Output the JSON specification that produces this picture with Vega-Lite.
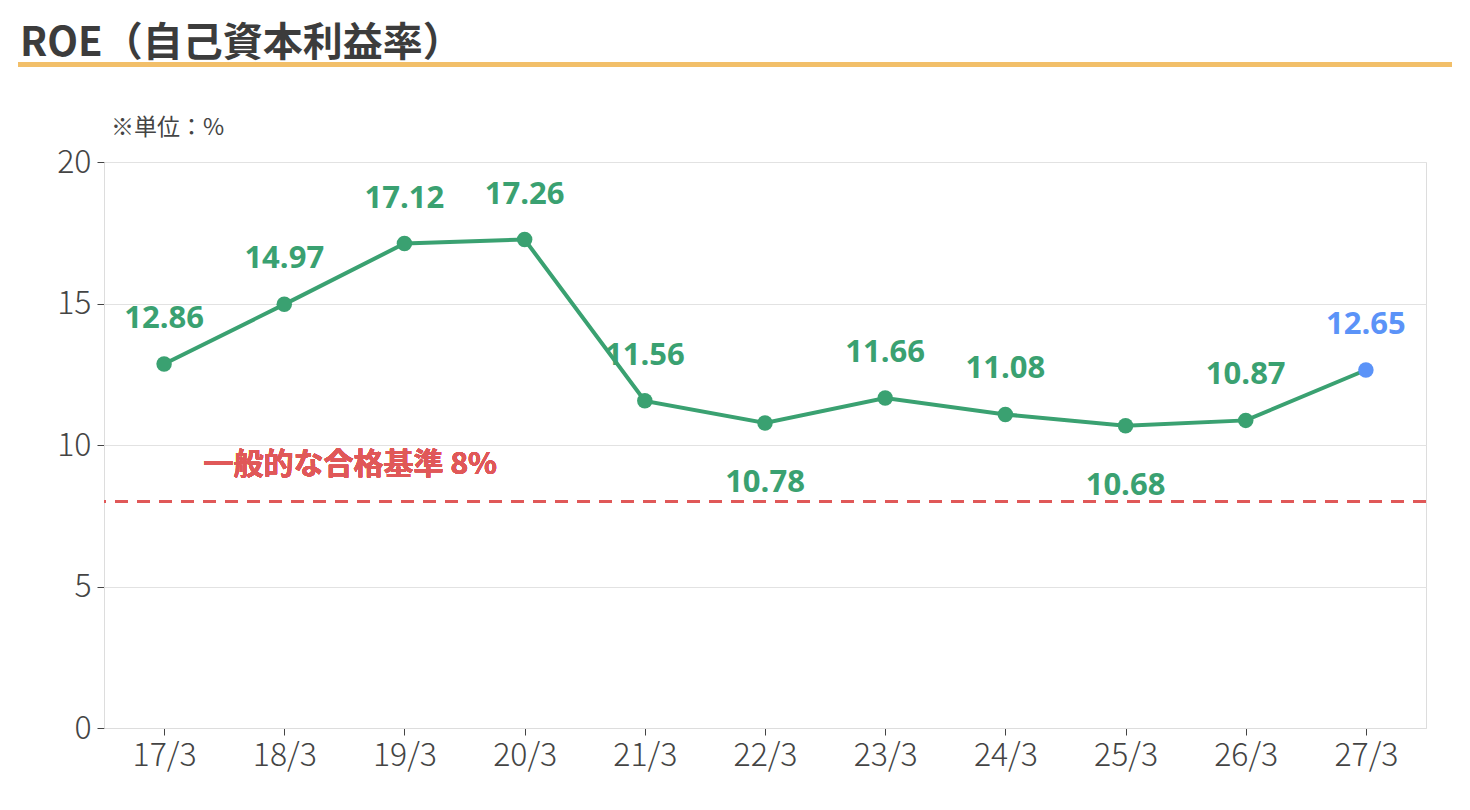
{
  "$schema": "https://vega.github.io/schema/vega-lite/v6.json",
  "padding": {"left": 18, "top": 21, "right": 10, "bottom": 10},
  "background": "white",
  "spacing": 44,
  "vconcat": [
    {
      "width": 1430,
      "height": 1,
      "view": {"stroke": "#f2bf69", "strokeWidth": 4},
      "title": {
        "text": "ROE（自己資本利益率）",
        "anchor": "start",
        "fontSize": 40,
        "fontWeight": "bold",
        "color": "#3c3c3c",
        "offset": -5
      },
      "data": {"values": [{}]},
      "mark": "text",
      "encoding": {"text": {"value": ""}}
    },
    {
      "spacing": 20,
      "hconcat": [
        {
          "width": 3,
          "height": 566,
          "view": {"stroke": null},
          "data": {"values": [{}]},
          "mark": "text",
          "encoding": {"text": {"value": ""}}
        },
        {
          "width": 1322,
          "height": 566,
          "title": {
            "text": "※単位：%",
            "anchor": "start",
            "frame": "group",
            "fontSize": 23,
            "fontWeight": "normal",
            "color": "#444444",
            "dx": 7,
            "offset": 6
          },
          "data": {
            "values": [
              {"year": "17/3", "roe": 12.86, "kind": "実績"},
              {"year": "18/3", "roe": 14.97, "kind": "実績"},
              {"year": "19/3", "roe": 17.12, "kind": "実績"},
              {"year": "20/3", "roe": 17.26, "kind": "実績"},
              {"year": "21/3", "roe": 11.56, "kind": "実績"},
              {"year": "22/3", "roe": 10.78, "kind": "実績"},
              {"year": "23/3", "roe": 11.66, "kind": "実績"},
              {"year": "24/3", "roe": 11.08, "kind": "実績"},
              {"year": "25/3", "roe": 10.68, "kind": "実績"},
              {"year": "26/3", "roe": 10.87, "kind": "実績"},
              {"year": "27/3", "roe": 12.65, "kind": "予想"}
            ]
          },
          "encoding": {
            "x": {
              "field": "year",
              "type": "ordinal",
              "scale": {
                "type": "point",
                "padding": 0.5,
                "domain": ["17/3", "18/3", "19/3", "20/3", "21/3", "22/3", "23/3", "24/3", "25/3", "26/3", "27/3"]
              },
              "axis": {
                "title": null,
                "labelAngle": 0,
                "labelFontSize": 32,
                "labelFontWeight": 300,
                "labelColor": "#444444",
                "labelPadding": 5,
                "tickColor": "#444444",
                "tickSize": 7,
                "domainColor": "#dddddd",
                "grid": false
              }
            },
            "y": {
              "field": "roe",
              "type": "quantitative",
              "scale": {"domain": [0, 20], "nice": false},
              "axis": {
                "title": null,
                "values": [0, 5, 10, 15, 20],
                "labelFontSize": 32,
                "labelFontWeight": 300,
                "labelColor": "#444444",
                "labelPadding": 6,
                "tickColor": "#444444",
                "tickSize": 7,
                "domainColor": "#dddddd",
                "gridColor": "#e2e2e2",
                "minExtent": 60,
                "maxExtent": 60
              }
            }
          },
          "layer": [
            {
              "mark": {"type": "rule", "color": "#e05858", "strokeWidth": 3, "strokeDash": [13, 9]},
              "encoding": {"x": null, "y": {"datum": 8}}
            },
            {
              "mark": {"type": "line", "color": "#3aa171", "strokeWidth": 4}
            },
            {
              "mark": {"type": "circle", "size": 240, "opacity": 1},
              "encoding": {
                "color": {
                  "field": "kind",
                  "type": "nominal",
                  "scale": {"domain": ["実績", "予想"], "range": ["#3aa171", "#5b93f8"]},
                  "legend": null
                }
              }
            },
            {
              "transform": [{"filter": {"not": {"field": "year", "oneOf": ["22/3", "25/3"]}}}],
              "mark": {"type": "text", "font": "Open Sans", "fontSize": 31, "fontWeight": "bold", "baseline": "middle", "dy": -45},
              "encoding": {
                "text": {"field": "roe", "type": "quantitative", "format": ".2f"},
                "color": {
                  "field": "kind",
                  "type": "nominal",
                  "scale": {"domain": ["実績", "予想"], "range": ["#3aa171", "#5b93f8"]},
                  "legend": null
                }
              }
            },
            {
              "transform": [{"filter": {"field": "year", "oneOf": ["22/3", "25/3"]}}],
              "mark": {"type": "text", "font": "Open Sans", "fontSize": 31, "fontWeight": "bold", "baseline": "middle", "dy": 60, "color": "#3aa171"},
              "encoding": {
                "text": {"field": "roe", "type": "quantitative", "format": ".2f"}
              }
            },
            {
              "mark": {
                "type": "text",
                "color": "#e05858",
                "fontSize": 30,
                "fontWeight": "bold",
                "align": "center",
                "baseline": "middle",
                "dx": 66,
                "dy": -37,
                "text": "一般的な合格基準 8%"
              },
              "encoding": {"x": {"datum": "18/3"}, "y": {"datum": 8}}
            }
          ]
        }
      ]
    }
  ],
  "config": {
    "font": "Noto Sans CJK JP",
    "view": {"stroke": "#dddddd"}
  }
}
